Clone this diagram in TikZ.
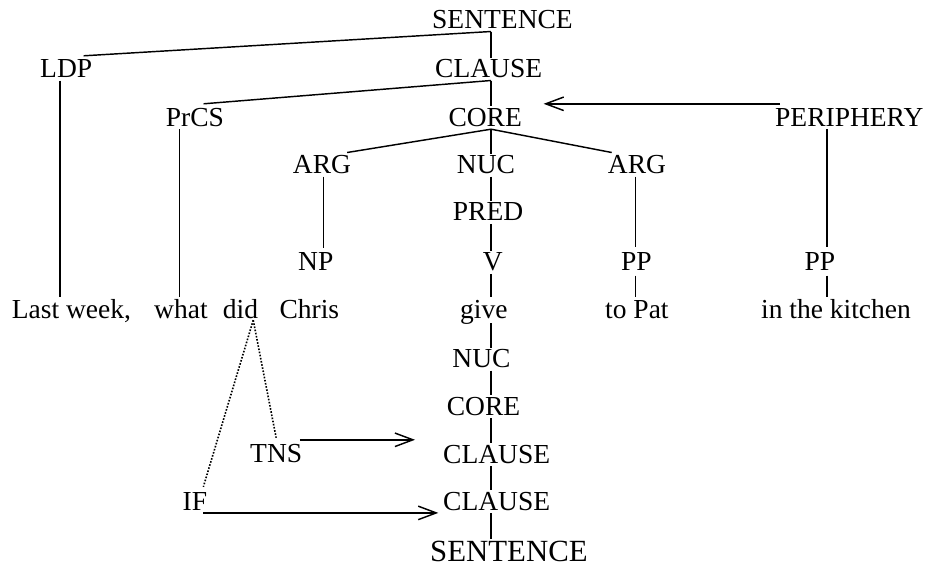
\documentclass[tikz,border=0pt]{standalone}
\usepackage{fontspec}
\setmainfont{Liberation Serif}
\usetikzlibrary{arrows.meta,calc}

\begin{document}
\begin{tikzpicture}[x=1pt,y=-1pt,
  lbl/.style={inner sep=0pt, text height=19.5pt, text depth=3pt, anchor=base west,
              font=\fontsize{27.5}{30}\selectfont},
  word/.style={inner sep=0pt, text height=21pt, text depth=4.5pt, anchor=base west,
               font=\fontsize{27.5}{30}\selectfont},
  bigl/.style={lbl, text height=21.5pt, text depth=0.5pt, font=\fontsize{30.8}{33}\selectfont},
  branch/.style={line width=1.45pt},
  pointer/.style={line width=1.45pt, -{Straight Barb[length=18pt,width=13.5pt,line width=1.45pt]}},
  traceline/.style={line width=1.6pt, dash pattern=on 1.6pt off 1.6pt}]

\useasboundingbox (0,0) rectangle (930,566);

% x positions of the vertical branches
\coordinate (spine) at (491,0);
\coordinate (xl) at (60,0);
\coordinate (xp) at (179.3,0);
\coordinate (xa) at (323.3,0);
\coordinate (xb) at (635.3,0);
\coordinate (xc) at (827,0);

% constituent projection
\node[lbl] (S)    at (432,28.3)   {SENTENCE};
\node[lbl] (ldp)  at (40,77.3)    {LDP};
\node[lbl] (cl)   at (435,77.3)   {CLAUSE};
\node[lbl] (prcs) at (165.7,126)  {PrCS};
\node[lbl] (core) at (448.3,126)  {CORE};
\node[lbl] (per)  at (775,126)    {PERIPHERY};
\node[lbl] (argA) at (292.7,173.3){ARG};
\node[lbl] (nuc)  at (456.7,173.3){NUC};
\node[lbl] (argB) at (607.7,173.3){ARG};
\node[lbl] (pred) at (452.7,220.7){PRED};
\node[lbl] (np)   at (298,270.7)  {NP};
\node[lbl] (v)    at (482.6,270.8){V};
\node[lbl] (ppA)  at (620.8,270.8){PP};
\node[lbl] (ppB)  at (804.4,270.8){PP};

% the sentence
\node[word] (w1) at (11.7,318)  {Last week,};
\node[word] (w2) at (154,318)   {what};
\node[word] (w3) at (222.7,318) {did};
\node[word] (w4) at (279.3,318) {Chris};
\node[word] (w5) at (460,318.6) {give};
\node[word] (w6) at (605,318)   {to Pat};
\node[word] (w7) at (761,318)   {in the kitchen};

% operator projection
\node[lbl]  (nuc2) at (452.2,367.5) {NUC};
\node[lbl]  (core2) at (446.7,415)  {CORE};
\node[lbl]  (tns)  at (250,462.7)   {TNS};
\node[lbl]  (cl2)  at (443,463)     {CLAUSE};
\node[lbl]  (if)   at (182.5,510)   {IF};
\node[lbl]  (cl3)  at (443,510)     {CLAUSE};
\node[bigl] (S2)   at (430,561.2)   {SENTENCE};

% central spine
\draw[branch] (S.south -| spine) -- (cl.north -| spine);
\draw[branch] (cl.south -| spine) -- (core.north -| spine);
\draw[branch] (core.south -| spine) -- (nuc.north -| spine);
\draw[branch] (nuc.south -| spine) -- (pred.north -| spine);
\draw[branch] (pred.south -| spine) -- (v.north -| spine);
\draw[branch] (v.south -| spine) -- (w5.north -| spine);
\draw[branch] (w5.south -| spine) -- (nuc2.north -| spine);
\draw[branch] (nuc2.south -| spine) -- (core2.north -| spine);
\draw[branch] (core2.south -| spine) -- (cl2.north -| spine);
\draw[branch] (cl2.south -| spine) -- (cl3.north -| spine);
\draw[branch] (cl3.south -| spine) -- ($(S2.north -| spine)+(0,-1)$);

% slanted branches
\draw[branch] (S.south -| spine) -- ($(ldp.north east)+(-8.7,-1.8)$);
\draw[branch] (cl.south -| spine) -- ($(prcs.north)+(8.6,-2.5)$);
\draw[branch] (core.south -| spine) -- ($(argA.north east)+(-4,-1.1)$);
\draw[branch] (core.south -| spine) -- ($(argB.north west)+(4,-1.1)$);

% other vertical branches
\draw[branch] (ldp.south -| xl) -- (w1.north -| xl);
\draw[branch] (prcs.south -| xp) -- (w2.north -| xp);
\draw[branch] (argA.south -| xa) -- ($(np.north -| xa)+(0,-3)$);
\draw[branch] (argB.south -| xb) -- ($(ppA.north -| xb)+(0,-4)$);
\draw[branch] ($(ppA.south -| xb)+(0,1.5)$) -- (w6.north -| xb);
\draw[branch] (per.south -| xc) -- ($(ppB.north -| xc)+(0,-4.5)$);
\draw[branch] ($(ppB.south -| xc)+(0,1.5)$) -- (w7.north -| xc);

% periphery modifies the core
\draw[pointer] ($(per.north west)+(5,-2.5)$) -- ($(core.north east)+(21.6,-2.5)$);

% operators expressed by "did"
\draw[traceline] ($(w3.south east)+(-5,-2.5)$) -- ($(tns.north)+(0,-5.2)$);
\draw[traceline] ($(w3.south east)+(-5,-2.5)$) -- ($(if.north east)+(-4,-3.5)$);
\draw[pointer] ($(tns.north east)+(-2.6,-3.2)$) -- ($(tns.north east -| cl2.west)+(-28,-3.2)$);
\draw[pointer] ($(if.south east)+(-4,-0.3)$) -- ($(if.south -| cl3.west)+(-4.7,-0.3)$);

\end{tikzpicture}
\end{document}
